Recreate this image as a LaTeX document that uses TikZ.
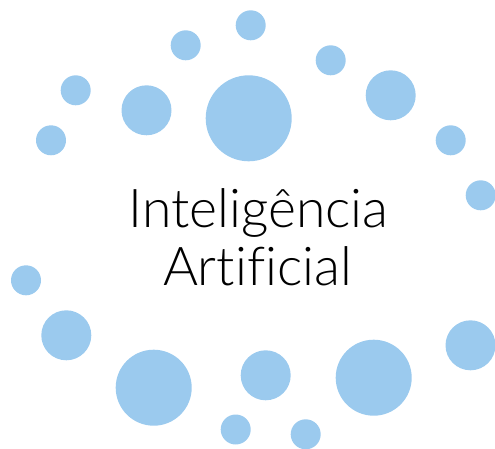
\documentclass[tikz,border=0pt]{standalone}
\usepackage{fontspec}
\setmainfont{Lato}[UprightFont=* Light,Ligatures=CommonOff]
\definecolor{dotblue}{HTML}{9BCAEE}
\tikzset{dot/.style={fill=dotblue,draw=none},
  lbl/.style={inner sep=0pt,anchor=base,text=black,font=\fontsize{53.5}{58}\selectfont}}
\begin{document}
\begin{tikzpicture}[x=1pt,y=-1pt]
\useasboundingbox (0,0) rectangle (495,449);
\foreach \x/\y/\r in {250.7/25.3/15,185.7/45.3/15,330.7/60.3/15,75.7/90.3/15,51/140.3/15,146.5/110.3/25,248.7/118.3/43,390.7/95.3/25,450.7/140.3/15,480.7/195.3/15,26/280.3/15,66.3/335.3/25,470.5/345.3/25,153.7/387.7/38,265.7/375.3/25,373.7/377.7/38,235.7/429.5/15,305.7/434.3/15}
  \fill[dot] (\x,\y) circle[radius=\r];
\node[lbl] (l1) at (258.5,227) {Inteligência};
\node[lbl] (l2) at (257.5,285) {Artificial};
\end{tikzpicture}
\end{document}
